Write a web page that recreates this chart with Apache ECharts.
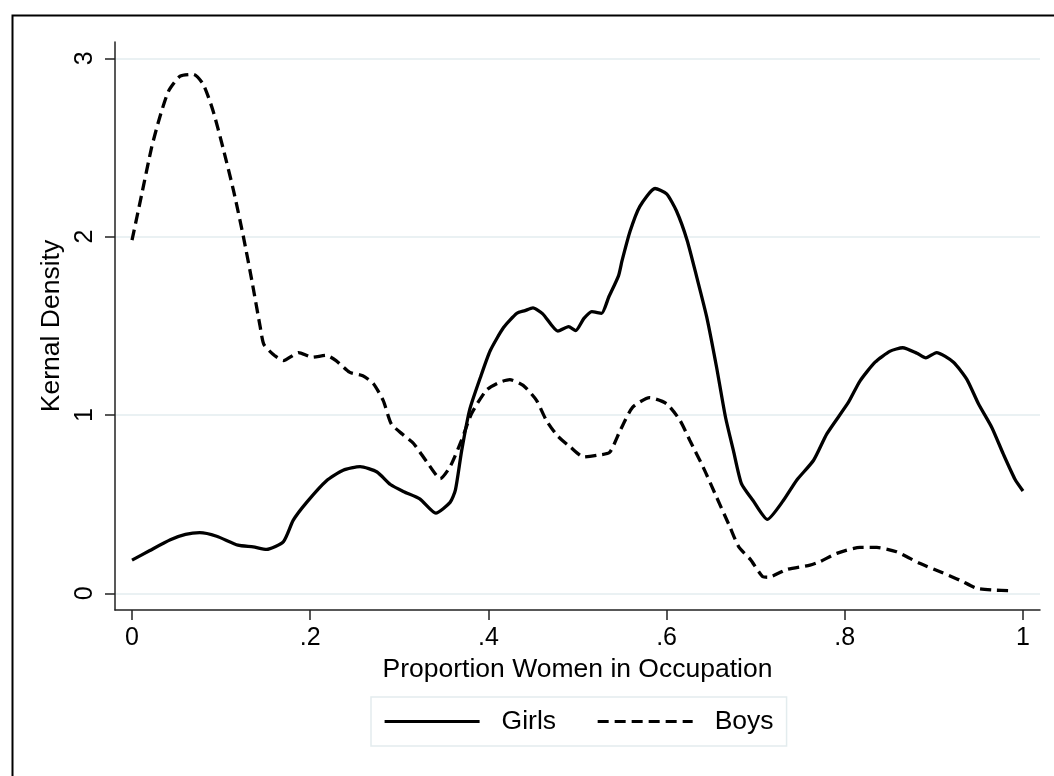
<!DOCTYPE html>
<html>
<head>
<meta charset="utf-8">
<script src="https://cdn.jsdelivr.net/npm/echarts@6/dist/echarts.min.js"></script>
<style>
html,body{margin:0;padding:0;background:#fff;}
#chart{width:1054px;height:776px;}
</style>
</head>
<body>
<div id="chart"></div>
<script>
// Kernel density, Girls (solid)
const girlsX = [0.000,0.020,0.043,0.060,0.076,0.095,0.119,0.136,0.151,0.170,0.181,0.196,0.218,0.237,0.256,0.275,0.290,0.305,0.323,0.341,0.357,0.363,0.370,0.379,0.391,0.402,0.417,0.432,0.441,0.450,0.461,0.478,0.490,0.498,0.507,0.516,0.527,0.535,0.546,0.550,0.559,0.570,0.587,0.600,0.611,0.623,0.634,0.645,0.656,0.666,0.675,0.684,0.697,0.713,0.731,0.746,0.765,0.780,0.804,0.817,0.834,0.851,0.865,0.881,0.891,0.903,0.922,0.937,0.950,0.965,0.978,0.991,1.000];
const girlsY = [0.186,0.24,0.30,0.33,0.34,0.32,0.27,0.26,0.246,0.29,0.41,0.51,0.63,0.69,0.71,0.68,0.61,0.57,0.53,0.45,0.51,0.58,0.80,1.03,1.21,1.36,1.49,1.57,1.585,1.60,1.567,1.47,1.495,1.473,1.54,1.58,1.57,1.66,1.78,1.865,2.03,2.17,2.27,2.24,2.145,1.98,1.77,1.55,1.27,0.99,0.80,0.615,0.52,0.414,0.52,0.634,0.746,0.895,1.07,1.19,1.296,1.358,1.377,1.346,1.32,1.35,1.296,1.20,1.063,0.93,0.78,0.64,0.574];
// Kernel density, Boys (dashed)
const boysX = [0.000,0.011,0.022,0.031,0.041,0.054,0.069,0.080,0.091,0.102,0.114,0.125,0.135,0.144,0.148,0.160,0.170,0.187,0.202,0.218,0.229,0.244,0.259,0.271,0.282,0.291,0.304,0.316,0.331,0.346,0.357,0.370,0.381,0.398,0.413,0.424,0.439,0.454,0.465,0.477,0.492,0.507,0.522,0.536,0.548,0.562,0.581,0.600,0.615,0.626,0.641,0.656,0.671,0.681,0.694,0.708,0.714,0.735,0.761,0.772,0.791,0.817,0.836,0.858,0.884,0.907,0.929,0.948,0.967,0.985];
const boysY = [1.98,2.24,2.50,2.667,2.816,2.90,2.91,2.854,2.705,2.50,2.257,2.00,1.74,1.49,1.395,1.333,1.305,1.35,1.324,1.334,1.305,1.24,1.22,1.175,1.08,0.95,0.89,0.84,0.736,0.643,0.71,0.86,1.007,1.14,1.184,1.198,1.166,1.082,0.97,0.886,0.82,0.764,0.774,0.79,0.914,1.044,1.097,1.063,0.97,0.858,0.708,0.54,0.373,0.26,0.19,0.093,0.09,0.134,0.158,0.177,0.224,0.257,0.257,0.233,0.168,0.121,0.074,0.028,0.018,0.015];
const xTicks = [0,0.2,0.4,0.6,0.8,1];
const yTicks = [0,1,2,3];
const xTitle = 'Proportion Women in Occupation';
const yTitle = 'Kernal Density';
const seriesNames = ['Girls','Boys'];

const FONT = '"Liberation Sans", Arial, Helvetica, sans-serif';
function fmtX(v){ let s = (+v).toFixed(1); if (s==='0.0') return '0'; if (s==='1.0') return '1'; return s.replace(/^0/,''); }

const chart = echarts.init(document.getElementById('chart'), null, {renderer:'canvas'});
chart.setOption({
  animation:false,
  backgroundColor:'#fff',
  textStyle:{fontFamily:FONT},
  graphic:[{type:'rect', left:10, top:13, shape:{x:0,y:0,width:1100,height:800}, style:{fill:'none', stroke:'#000', lineWidth:2}, silent:true}],
  grid:{left:115,right:14,top:42,bottom:166},
  xAxis:{type:'value', min:-0.0191, max:1.0191,
    axisLine:{show:true,onZero:false,lineStyle:{color:'#222',width:1.5}},
    axisTick:{show:true,length:10,customValues:xTicks,lineStyle:{color:'#222',width:1.5}},
    axisLabel:{customValues:xTicks,formatter:fmtX,fontSize:25,color:'#000',margin:16,fontFamily:FONT},
    splitLine:{show:false},
    name:xTitle, nameLocation:'middle', nameGap:43, nameTextStyle:{fontSize:26.5,color:'#000',fontFamily:FONT}},
  yAxis:{type:'value', min:-0.0937, max:3.0914,
    axisLine:{show:true,onZero:false,lineStyle:{color:'#222',width:1.5}},
    axisTick:{show:true,length:10,customValues:yTicks,lineStyle:{color:'#222',width:1.5}},
    axisLabel:{customValues:yTicks,rotate:90,fontSize:25,color:'#000',margin:17,fontFamily:FONT},
    splitLine:{show:true,lineStyle:{color:'#eaf1f3',width:2}},
    name:yTitle, nameLocation:'middle', nameGap:42, nameRotate:90, nameTextStyle:{fontSize:26.5,color:'#000',fontFamily:FONT}},
  legend:{data:seriesNames, left:371, top:697, orient:'horizontal',
    itemWidth:95, itemHeight:14, itemGap:40,
    padding:[11,13,11,12], borderColor:'#e3ecee', borderWidth:1.5,
    itemStyle:{opacity:0, borderWidth:0},
    lineStyle:{width:3.2},
    textStyle:{fontSize:26.5,color:'#000',fontFamily:FONT,padding:[0,0,0,17]}},
  series:[
    {name:seriesNames[0], type:'line', data:girlsX.map((x,i)=>[x,girlsY[i]]), symbol:'none', smooth:0.2,
     lineStyle:{color:'#000',width:3.3,type:'solid'}, itemStyle:{color:'#000'}},
    {name:seriesNames[1], type:'line', data:boysX.map((x,i)=>[x,boysY[i]]), symbol:'none', smooth:0.2,
     lineStyle:{color:'#000',width:3.3,type:[11,6]}, itemStyle:{color:'#000'}}
  ]
});
</script>
</body>
</html>
